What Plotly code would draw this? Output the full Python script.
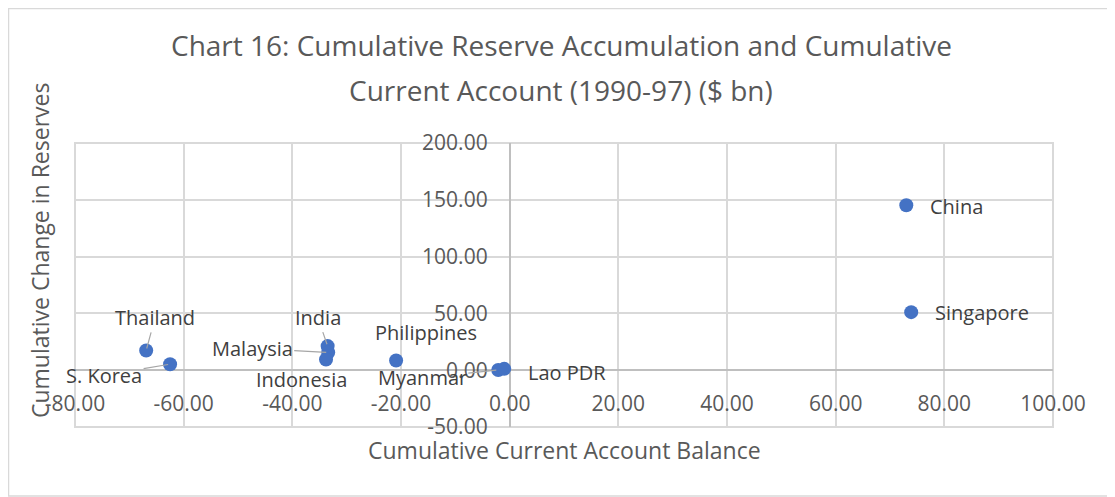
import plotly.graph_objects as go

## Data
countries = ["Thailand", "S. Korea", "India", "Malaysia", "Indonesia",
             "Philippines", "Myanmar", "Lao PDR", "China", "Singapore"]
ca_balance = [-66.9, -62.5, -33.5, -33.4, -33.8, -20.9, -2.1, -1.0, 73.0, 73.9]
reserve_change = [17.4, 5.3, 21.2, 15.6, 9.4, 8.6, 0.2, 1.2, 145.2, 51.1]

x_ticks = [-80, -60, -40, -20, 0, 20, 40, 60, 80, 100]
x_tick_text = ["-80.00", "-60.00", "-40.00", "-20.00", "0.00", "20.00", "40.00", "60.00", "80.00", "100.00"]
y_ticks = [-50, 0, 50, 100, 150, 200]
y_tick_text = ["-50.00", "0.00", "50.00", "100.00", "150.00", "200.00"]

## Label placement (pixel offsets from the point, leader line or not)
label_pos = {
    "Thailand": (9, -33, True),
    "S. Korea": (-66, 11, True),
    "India": (-10, -29, True),
    "Malaysia": (-76, -4, True),
    "Indonesia": (-25, 20, False),
    "Philippines": (30, -28, False),
    "Myanmar": (-76, 8, True),
    "Lao PDR": (63, 4, False),
    "China": (50, 1, False),
    "Singapore": (71, 0, False),
}

FONT = "Open Sans"
GREY = "#595959"
GRID = "#d9d9d9"

fig = go.Figure()
fig.add_trace(go.Scatter(
    x=ca_balance, y=reserve_change, mode="markers",
    marker=dict(color="#4472C4", size=14),
    hoverinfo="skip", showlegend=False,
))

annotations = []
for name, xv, yv in zip(countries, ca_balance, reserve_change):
    dx, dy, leader = label_pos[name]
    if leader:
        annotations.append(dict(
            x=xv, y=yv, xref="x", yref="y", text=name, showarrow=True,
            ax=dx, ay=dy, arrowhead=0, arrowwidth=1.2, arrowcolor="#a6a6a6",
            standoff=2, font=dict(family=FONT, size=20, color="#404040"),
        ))
    else:
        annotations.append(dict(
            x=xv, y=yv, xref="x", yref="y", text=name, showarrow=False,
            xanchor="center", yanchor="middle",
            xshift=dx, yshift=-dy, font=dict(family=FONT, size=20, color="#404040"),
        ))

# title lines and axis titles
annotations += [
    dict(x=0.497, y=1.345, xref="paper", yref="paper", showarrow=False,
         xanchor="center", yanchor="middle",
         text="Chart 16: Cumulative Reserve Accumulation and Cumulative",
         font=dict(family=FONT, size=28, color=GREY)),
    dict(x=0.497, y=1.187, xref="paper", yref="paper", showarrow=False,
         xanchor="center", yanchor="middle",
         text="Current Account (1990-97) ($ bn)",
         font=dict(family=FONT, size=28, color=GREY)),
    dict(x=0.5, y=-0.081, xref="paper", yref="paper", showarrow=False,
         xanchor="center", yanchor="middle",
         text="Cumulative Current Account Balance",
         font=dict(family=FONT, size=23, color=GREY)),
    dict(x=-0.0358, y=0.623, xref="paper", yref="paper", showarrow=False,
         xanchor="center", yanchor="middle",
         text="Cumulative Change in Reserves", textangle=-90,
         font=dict(family=FONT, size=23, color=GREY)),
]

# the page body adds an 8px margin, so the figure is 8px smaller each way
fig.update_layout(
    width=1107, height=489, autosize=False,
    margin=dict(l=67, r=62, t=135, b=70),
    paper_bgcolor="white", plot_bgcolor="white",
    annotations=annotations,
    shapes=[
        dict(type="rect", xref="paper", yref="paper", x0=0, x1=1, y0=0, y1=1,
             line=dict(color=GRID, width=2), layer="below"),
        dict(type="rect", xref="paper", yref="paper", x0=-0.068, x1=1.1,
             y0=-0.243, y1=1.4736, line=dict(color=GRID, width=1.5)),
    ],
)
fig.update_xaxes(
    range=[-80, 100], tickvals=x_ticks, ticktext=x_tick_text,
    anchor="free", position=0.2, ticklabelstandoff=19,
    showgrid=True, gridcolor=GRID, gridwidth=2,
    zeroline=True, zerolinecolor="#bfbfbf", zerolinewidth=2,
    showline=False, ticks="",
    tickfont=dict(family=FONT, size=21, color=GREY),
)
fig.update_yaxes(
    range=[-50, 200], tickvals=y_ticks, ticktext=y_tick_text,
    anchor="free", position=80 / 180, ticklabelstandoff=22,
    showgrid=True, gridcolor=GRID, gridwidth=2,
    zeroline=True, zerolinecolor="#bfbfbf", zerolinewidth=2,
    showline=False, ticks="",
    tickfont=dict(family=FONT, size=21, color=GREY),
)

fig.write_html("out.html")
